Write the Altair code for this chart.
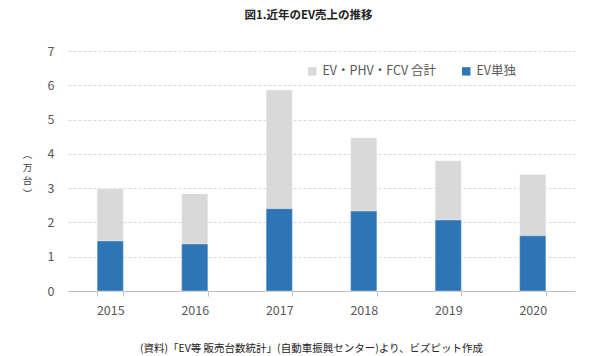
import altair as alt
import pandas as pd

years = ["2015", "2016", "2017", "2018", "2019", "2020"]
total = [2.98, 2.84, 5.86, 4.47, 3.80, 3.40]
ev_only = [1.46, 1.37, 2.40, 2.33, 2.07, 1.61]
series = ["EV・PHV・FCV 合計", "EV単独"]
colors = ["#d9d9d9", "#2e75b6"]

rows = []
for y, t in zip(years, total):
    rows.append({"year": y, "series": series[0], "value": t})
for y, e in zip(years, ev_only):
    rows.append({"year": y, "series": series[1], "value": e})
df = pd.DataFrame(rows)

FONT = "Noto Sans CJK JP"
caption = "(資料)「EV等 販売台数統計」(自動車振興センター)より、ビズピット作成"

x_enc = alt.X("year:N", sort=years,
              scale=alt.Scale(paddingInner=0.69, paddingOuter=0.345),
              axis=alt.Axis(title=caption, labelAngle=0, labelFontSize=12.5,
                            labelColor="#595959", labelPadding=8,
                            tickBand="extent", tickColor="#bfbfbf", tickSize=5,
                            domainColor="#bfbfbf", titleFontSize=10.5,
                            titleFontWeight="normal", titleColor="#222222",
                            titleX=243, titleY=52, titleFont=FONT,
                            labelFont=FONT))
y_enc = alt.Y("value:Q", stack=None,
              scale=alt.Scale(domain=[0, 7]),
              axis=alt.Axis(values=[0, 1, 2, 3, 4, 5, 6, 7], domain=False,
                            ticks=False, labelPadding=14, labelFontSize=12.5,
                            labelColor="#595959", labelFont=FONT,
                            gridColor="#d9d9d9", gridDash=[3, 2],
                            title=["︵", "万", "台", "︶"], titleAngle=0,
                            titleX=-41, titleY=108, titleFontSize=9.5,
                            titleFontWeight="normal", titleColor="#404040",
                            titleLineHeight=13, titleFont=FONT))
c_enc = alt.Color("series:N",
                  scale=alt.Scale(domain=series, range=colors),
                  legend=alt.Legend(title=None, orient="none",
                                    direction="horizontal",
                                    legendX=238, legendY=14,
                                    symbolType="square", symbolSize=70,
                                    symbolStrokeWidth=0,
                                    labelFontSize=12.5, labelColor="#595959",
                                    labelFont=FONT, columnPadding=24))

base = alt.Chart(df).mark_bar(stroke="#ffffff", strokeWidth=0.6, strokeOpacity=0.6).encode(
    x=x_enc, y=y_enc, color=c_enc)

back = base.transform_filter(alt.datum.series == series[0])
front = base.transform_filter(alt.datum.series == series[1])

chart = alt.layer(back, front).properties(
    width=507, height=240,
    title=alt.TitleParams("図1.近年のEV売上の推移", fontSize=11.5,
                          fontWeight="bold", font=FONT, color="#222222",
                          anchor="middle", dx=-13, offset=24),
    padding={"left": 68, "top": 51, "right": 25, "bottom": 65},
    autosize=alt.AutoSizeParams(type="none"),
).configure_view(stroke=None)

chart.save("out.html", embed_options={"renderer": "svg", "actions": False})
